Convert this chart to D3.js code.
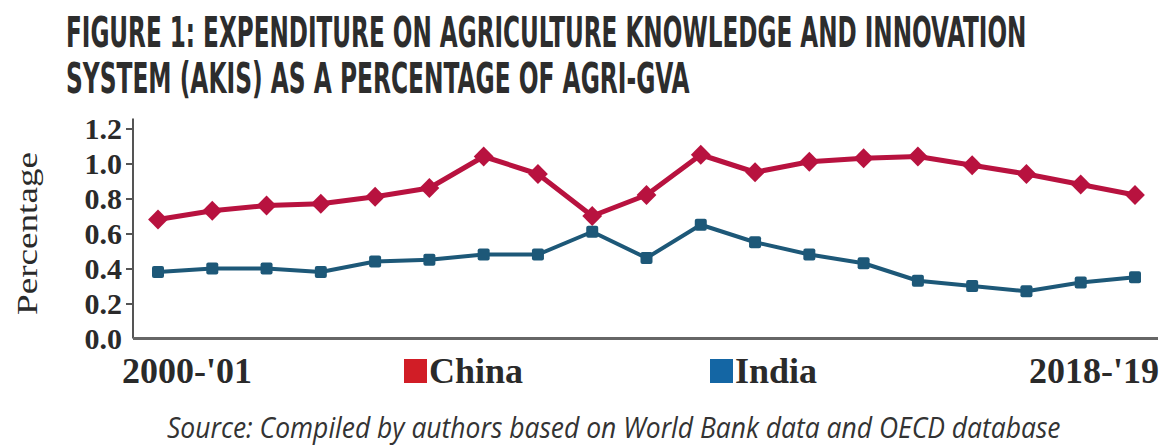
<!DOCTYPE html>
<html>
<head>
<meta charset="utf-8">
<script src="https://cdn.jsdelivr.net/npm/d3@7"></script>
<style>
  body { margin: 0; background: #fff; }
</style>
</head>
<body>
<script>
var w = 1162;
var h = 447;

// data
var years = ["2000-'01","2001-'02","2002-'03","2003-'04","2004-'05","2005-'06","2006-'07","2007-'08","2008-'09","2009-'10",
             "2010-'11","2011-'12","2012-'13","2013-'14","2014-'15","2015-'16","2016-'17","2017-'18","2018-'19"];
var china = [0.68,0.73,0.76,0.77,0.81,0.86,1.04,0.94,0.70,0.82,1.05,0.95,1.01,1.03,1.04,0.99,0.94,0.88,0.82];
var india = [0.38,0.40,0.40,0.38,0.44,0.45,0.48,0.48,0.61,0.46,0.65,0.55,0.48,0.43,0.33,0.30,0.27,0.32,0.35];
var yTicks = [0, 0.2, 0.4, 0.6, 0.8, 1.0, 1.2];
var xTickLabels = ["2000-'01", "2018-'19"];
var seriesNames = ["China", "India"];

var title1 = "FIGURE 1: EXPENDITURE ON AGRICULTURE KNOWLEDGE AND INNOVATION";
var title2 = "SYSTEM (AKIS) AS A PERCENTAGE OF AGRI-GVA";
var source = "Source: Compiled by authors based on World Bank data and OECD database";

var svg = d3.select('body')
  .append('svg')
  .attr('width', w)
  .attr('height', h);

var x = d3.scalePoint().domain(years).range([158, 1135]);
var y = d3.scaleLinear().domain([0, 1.2]).range([338.5, 128.5]);

// squeeze a text horizontally so it spans a given width
function fitText(tx, ty, width, txt, styles) {
  var g = svg.append('g');
  var t = g.append('text').attr('x', 0).attr('y', 0).text(txt);
  for (var k in styles) t.style(k, styles[k]);
  var natural = t.node().getComputedTextLength();
  g.attr('transform', 'translate(' + tx + ',' + ty + ') scale(' + (width / natural) + ',1)');
  return t;
}

var titleStyle = {
  'font-family': '"DejaVu Sans Condensed", "DejaVu Sans", sans-serif',
  'font-weight': 'bold', 'font-size': '42px', 'fill': '#2d2d2d'
};
fitText(66, 47, 961, title1, titleStyle);
fitText(66, 93, 624, title2, titleStyle);

// y axis
var yAxis = d3.axisLeft(y)
  .tickValues(yTicks)
  .tickSize(7)
  .tickPadding(4)
  .tickFormat(d3.format('.1f'));

var gy = svg.append('g')
  .attr('transform', 'translate(133,0)')
  .call(yAxis);
gy.select('.domain').remove();
gy.selectAll('.tick line')
  .attr('stroke', '#555').attr('stroke-width', 2)
  .filter(function(d){ return d === 0; }).remove();
gy.selectAll('.tick text')
  .style('font-family', '"Liberation Serif", serif')
  .style('font-weight', 'bold').style('font-size', '30px')
  .attr('fill', '#2a2a2a')
  .attr('dy', '0.34em');

svg.append('line')
  .attr('x1', 133).attr('x2', 133)
  .attr('y1', y(1.2) - 10).attr('y2', y(0))
  .attr('stroke', '#555').attr('stroke-width', 2);

svg.append('line')
  .attr('x1', 133).attr('x2', 1158)
  .attr('y1', y(0)).attr('y2', y(0))
  .attr('stroke', '#666').attr('stroke-width', 3);

svg.append('text')
  .attr('transform', 'translate(37,' + y(0.6) + ') rotate(-90)')
  .attr('text-anchor', 'middle')
  .attr('textLength', 163).attr('lengthAdjust', 'spacingAndGlyphs')
  .style('font-family', '"Liberation Serif", serif')
  .style('font-size', '30px')
  .attr('fill', '#2a2a2a')
  .text('Percentage');

// x labels, first and last only
svg.selectAll('.xlab')
  .data(xTickLabels)
  .enter()
  .append('text')
  .attr('class', 'xlab')
  .attr('x', function(d, i){ return i === 0 ? x(d) - 36 : x(d) + 24; })
  .attr('y', 383)
  .attr('text-anchor', function(d, i){ return i === 0 ? 'start' : 'end'; })
  .style('font-family', '"Liberation Serif", serif')
  .style('font-weight', 'bold').style('font-size', '36px')
  .attr('fill', '#2a2a2a')
  .text(function(d){ return d; });

// lines
var line = d3.line()
  .x(function(d, i){ return x(years[i]); })
  .y(function(d){ return y(d); });

svg.append('path')
  .datum(china)
  .attr('d', line)
  .attr('fill', 'none')
  .attr('stroke', '#b8123f')
  .attr('stroke-width', 5)
  .attr('stroke-linejoin', 'round');

svg.append('path')
  .datum(india)
  .attr('d', line)
  .attr('fill', 'none')
  .attr('stroke', '#1d5878')
  .attr('stroke-width', 4)
  .attr('stroke-linejoin', 'round');

// markers
svg.selectAll('.cn')
  .data(china)
  .enter()
  .append('path')
  .attr('class', 'cn')
  .attr('d', d3.symbol().type(d3.symbolDiamond2).size(250))
  .attr('transform', function(d, i){ return 'translate(' + x(years[i]) + ',' + y(d) + ')'; })
  .attr('fill', '#b8123f');

svg.selectAll('.in')
  .data(india)
  .enter()
  .append('rect')
  .attr('class', 'in')
  .attr('x', function(d, i){ return x(years[i]) - 6; })
  .attr('y', function(d){ return y(d) - 6; })
  .attr('width', 12)
  .attr('height', 12)
  .attr('rx', 2)
  .attr('fill', '#1d5878');

// legend
var legendColors = ['#d11d26', '#1466a4'];
var legendX = [404, 710];
var lg = svg.selectAll('.lg')
  .data(seriesNames)
  .enter()
  .append('g')
  .attr('class', 'lg')
  .attr('transform', function(d, i){ return 'translate(' + legendX[i] + ',0)'; });
lg.append('rect')
  .attr('x', 0).attr('y', 359)
  .attr('width', 23).attr('height', 24)
  .attr('fill', function(d, i){ return legendColors[i]; });
lg.append('text')
  .attr('x', 25).attr('y', 383)
  .style('font-family', '"Liberation Serif", serif')
  .style('font-weight', 'bold').style('font-size', '36px')
  .attr('fill', '#2a2a2a')
  .text(function(d){ return d; });

// source
fitText(167, 438, 894, source, {
  'font-family': '"Open Sans", sans-serif',
  'font-style': 'italic', 'font-size': '29px', 'fill': '#333'
});
</script>
</body>
</html>
